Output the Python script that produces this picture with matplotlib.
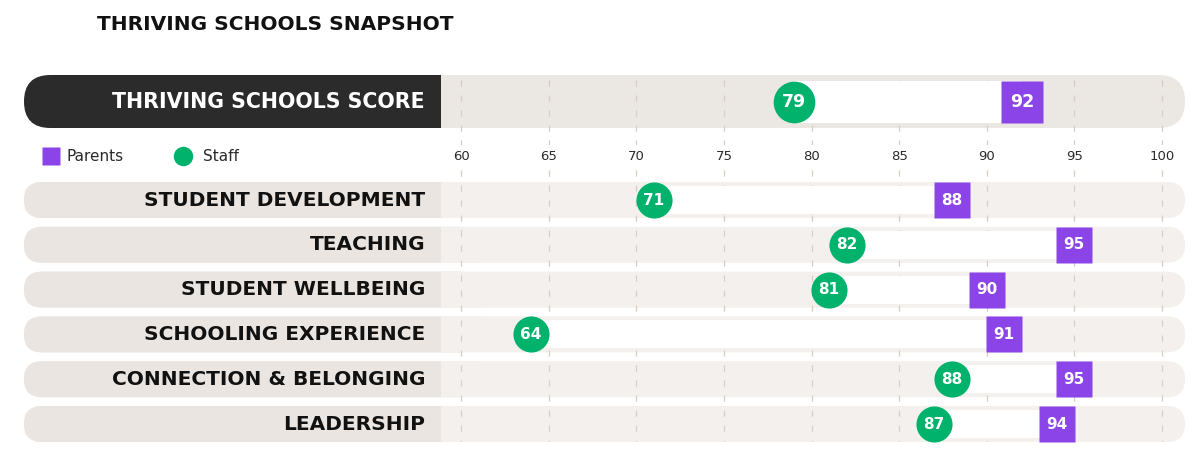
import matplotlib
matplotlib.use("Agg")
import matplotlib.pyplot as plt
from matplotlib.patches import FancyBboxPatch, Rectangle

# ---- data ----
categories = [
    "STUDENT DEVELOPMENT",
    "TEACHING",
    "STUDENT WELLBEING",
    "SCHOOLING EXPERIENCE",
    "CONNECTION & BELONGING",
    "LEADERSHIP",
]
staff = [71, 82, 81, 64, 88, 87]
parents = [88, 95, 90, 91, 95, 94]

overall_label = "THRIVING SCHOOLS SCORE"
overall_staff = 79
overall_parents = 92

ticks = [60, 65, 70, 75, 80, 85, 90, 95, 100]

# ---- colours ----
PURPLE = "#8B44E8"
GREEN = "#00B26B"
LABEL_BG = "#EAE5E1"
PLOT_BG = "#F3F0ED"
TOP_BG = "#EBE7E3"
DARK = "#2B2B2B"
GRID = "#D9CEC6"
TEXT = "#2A2A2A"

FONT = "DejaVu Sans"

# ---- layout (pixel based, 1203x459 canvas) ----
W, H = 1203, 459
PX_X = (1162 - 461) / 40.0      # pixels per score unit
PX_Y = 44.8                     # pixels per row
X_LEFT = 60 - 461 / PX_X
X_RIGHT = 60 + (W - 461) / PX_X
Y_TOP = -200 / PX_Y
Y_BOT = (H - 200) / PX_Y


def px_x(p):
    return X_LEFT + p / PX_X


def px_y(p):
    return (p - 200) / PX_Y


TOP_Y = px_y(101.5)
TICK_Y = px_y(156)
ASPECT = PX_X / PX_Y

fig = plt.figure(figsize=(W / 100, H / 100), dpi=100)
fig.patch.set_facecolor("white")
ax = fig.add_axes([0, 0, 1, 1])
ax.set_xlim(X_LEFT, X_RIGHT)
ax.set_ylim(Y_BOT, Y_TOP)
ax.axis("off")

pill_l = px_x(24)
pill_r = px_x(1185)
split = px_x(441)


def pill(y, h, left_color, right_color):
    r = h * PX_Y / 2 / PX_X
    full = FancyBboxPatch((pill_l, y - h / 2), pill_r - pill_l, h,
                          boxstyle=f"round,pad=0,rounding_size={r}",
                          mutation_aspect=ASPECT, fc=right_color, ec="none", zorder=1)
    ax.add_patch(full)
    lab = FancyBboxPatch((pill_l, y - h / 2), split - pill_l + 2 * r, h,
                         boxstyle=f"round,pad=0,rounding_size={r}",
                         mutation_aspect=ASPECT, fc=left_color, ec="none", zorder=1)
    ax.add_patch(lab)
    ax.add_patch(Rectangle((split, y - h / 2), 2.2 * r + 0.1, h,
                           fc=right_color, ec="none", zorder=1.1))


# top summary row
top_h = 53 / PX_Y
pill(TOP_Y, top_h, DARK, TOP_BG)
ax.text(px_x(425), TOP_Y, overall_label, ha="right", va="center",
        color="white", fontsize=14.8, fontweight="bold", family=FONT, zorder=5)
ax.add_patch(Rectangle((min(overall_staff, overall_parents), TOP_Y - 42 / PX_Y / 2),
                       abs(overall_parents - overall_staff), 42 / PX_Y,
                       fc="white", ec="none", zorder=3))
ax.plot(overall_staff, TOP_Y, "o", ms=30, color=GREEN, mec="none", zorder=4)
ax.plot(overall_parents, TOP_Y, "s", ms=30, color=PURPLE, mec="none", zorder=4)
ax.text(overall_staff, TOP_Y, str(overall_staff), ha="center", va="center",
        color="white", fontsize=12.5, fontweight="bold", family=FONT, zorder=5)
ax.text(overall_parents, TOP_Y, str(overall_parents), ha="center", va="center",
        color="white", fontsize=12.5, fontweight="bold", family=FONT, zorder=5)

# category rows
row_h = 36 / PX_Y
bar_h = 28 / PX_Y
for i, (cat, s, p) in enumerate(zip(categories, staff, parents)):
    pill(i, row_h, LABEL_BG, PLOT_BG)
    ax.text(px_x(425), i, cat, ha="right", va="center", color="#111111",
            fontsize=14.5, fontweight="bold", family=FONT, zorder=5)
    ax.add_patch(Rectangle((min(s, p), i - bar_h / 2), abs(p - s), bar_h,
                           fc="white", ec="none", zorder=3))
    ax.plot(s, i, "o", ms=26, color=GREEN, mec="none", zorder=4)
    ax.plot(p, i, "s", ms=26, color=PURPLE, mec="none", zorder=4)
    ax.text(s, i, str(s), ha="center", va="center", color="white",
            fontsize=11, fontweight="bold", family=FONT, zorder=5)
    ax.text(p, i, str(p), ha="center", va="center", color="white",
            fontsize=11, fontweight="bold", family=FONT, zorder=5)

# dashed grid + tick labels
for t in ticks:
    ax.plot([t, t], [px_y(80), px_y(441)], color=GRID, lw=0.9,
            linestyle=(0, (5, 7)), zorder=2)
    ax.text(t, TICK_Y, str(t), ha="center", va="center", fontsize=9.5,
            color=TEXT, family=FONT, zorder=5,
            bbox=dict(fc="white", ec="none", pad=3))

# legend
ax.plot(px_x(51), TICK_Y, "s", ms=13.5, color=PURPLE, mec="none", zorder=4)
ax.text(px_x(66), TICK_Y, "Parents", ha="left", va="center", fontsize=11,
        color=TEXT, family=FONT, zorder=5)
ax.plot(px_x(183), TICK_Y, "o", ms=14, color=GREEN, mec="none", zorder=4)
ax.text(px_x(203), TICK_Y, "Staff", ha="left", va="center", fontsize=11,
        color=TEXT, family=FONT, zorder=5)

# title
fig.text(97 / W, 1 - 25 / H, "THRIVING SCHOOLS SNAPSHOT", ha="left", va="center",
         fontsize=14.5, fontweight="bold", family=FONT, color="#111111")

fig.savefig("out.png", dpi=100, facecolor="white")
